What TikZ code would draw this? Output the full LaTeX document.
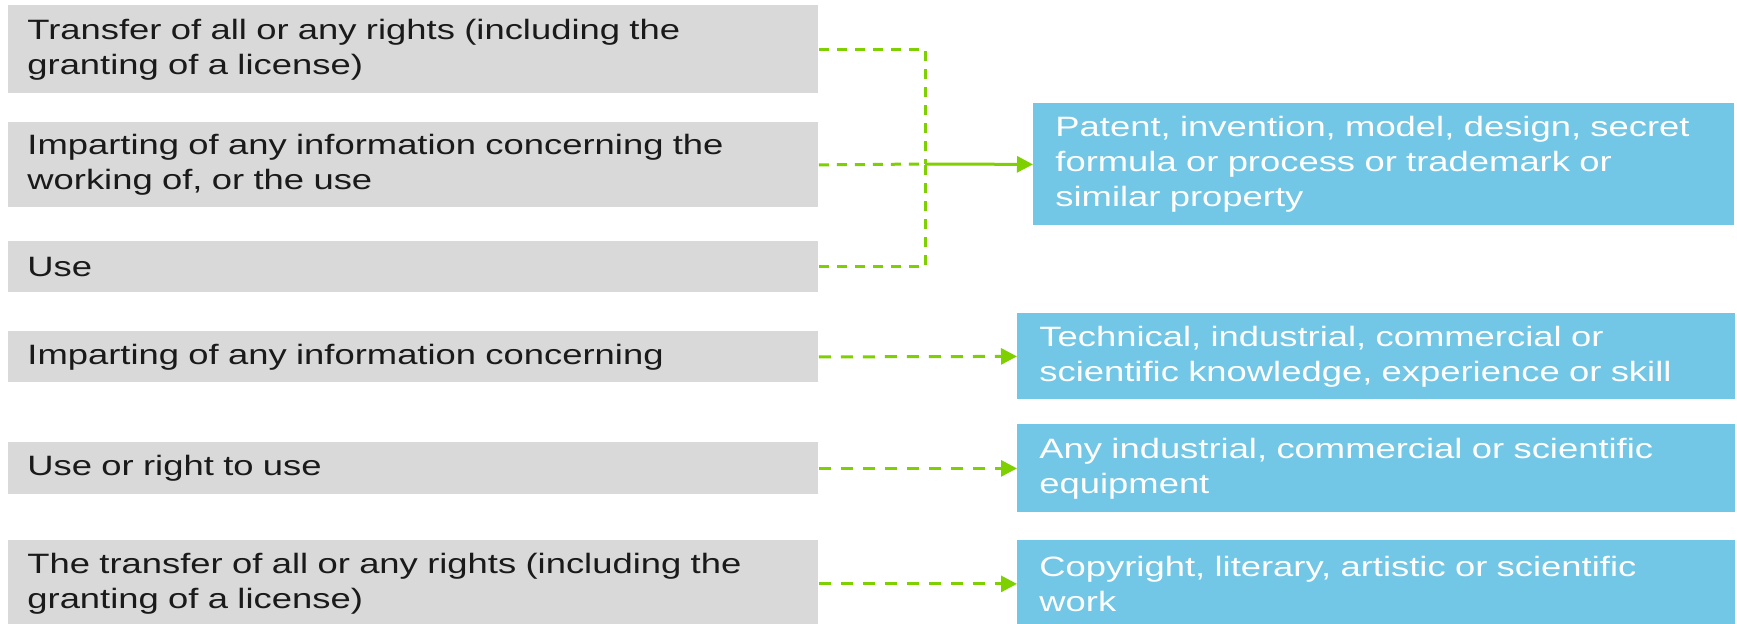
\documentclass[tikz,border=0pt]{standalone}
\usepackage{fontspec}
\setmainfont[FakeStretch=1.3]{Liberation Sans}
\usetikzlibrary{arrows.meta}
\definecolor{gbox}{HTML}{D9D9D9}
\definecolor{bbox}{HTML}{72C6E6}
\definecolor{conn}{HTML}{7FD000}
\definecolor{gtext}{HTML}{1A1A1A}
\tikzset{
  graybox/.style={fill=gbox, anchor=north west, inner xsep=9.5pt, inner ysep=0pt,
    text width=386pt, minimum width=405pt, align=left, text=gtext,
    font=\fontsize{14}{17.5}\selectfont},
  bluebox/.style={fill=bbox, anchor=north west, inner xsep=11pt, inner ysep=0pt,
    align=left, text=white, font=\fontsize{14}{17.5}\selectfont},
  dashconn/.style={draw=conn, line width=1.5pt, dash pattern=on 5pt off 4pt},
  dashsmall/.style={draw=conn, line width=1.5pt, dash pattern=on 6pt off 5pt,
    -{Triangle[length=8pt,width=8pt]}},
}
\begin{document}
\begin{tikzpicture}[x=0.5pt,y=-0.5pt]
\useasboundingbox (0,0) rectangle (1737,624);
\clip (0,0) rectangle (1737,624);
% gray boxes
\node[graybox, minimum height=44pt] (g1) at (8,5) {Transfer of all or any rights (including the\\granting of a license)};
\node[graybox, minimum height=42.5pt] (g2) at (8,122) {Imparting of any information concerning the\\working of, or the use};
\node[graybox, minimum height=25.5pt] (g3) at (8,241) {Use};
\node[graybox, minimum height=25.5pt] (g4) at (8,331) {Imparting of any information concerning};
\node[graybox, minimum height=26pt] (g5) at (8,442) {Use or right to use};
\node[graybox, minimum height=43.5pt] (g6) at (8,540) {The transfer of all or any rights (including the\\granting of a license)};
% blue boxes
\node[bluebox, text width=328.5pt, minimum width=350.5pt, minimum height=61pt] (b1) at (1033,103) {Patent, invention, model, design, secret\\formula or process or trademark or\\similar property};
\node[bluebox, text width=337pt, minimum width=359pt, minimum height=43pt] (b2) at (1017,313) {Technical, industrial, commercial or\\scientific knowledge, experience or skill};
\node[bluebox, text width=337pt, minimum width=359pt, minimum height=44pt] (b3) at (1017,424) {Any industrial, commercial or scientific\\equipment};
\node[bluebox, text width=337pt, minimum width=359pt, minimum height=43.5pt] (b4) at (1017,540) {Copyright, literary, artistic or scientific\\work};
% connectors
\coordinate (jm) at (925,164);
\draw[dashconn] (g1.east) -| (jm);
\draw[dashconn] (g3.east) -| (jm);
\draw[dashconn] (g2.east) -- (jm);
\draw[draw=conn, line width=1.5pt, -{Triangle[length=8pt,width=8pt]}] (jm) -- (b1.west);
\draw[dashsmall] (g4.east) -- (b2.west);
\draw[dashsmall] (g5.east) -- (b3.west);
\draw[dashsmall] (g6.east) -- (b4.west);
\end{tikzpicture}
\end{document}
